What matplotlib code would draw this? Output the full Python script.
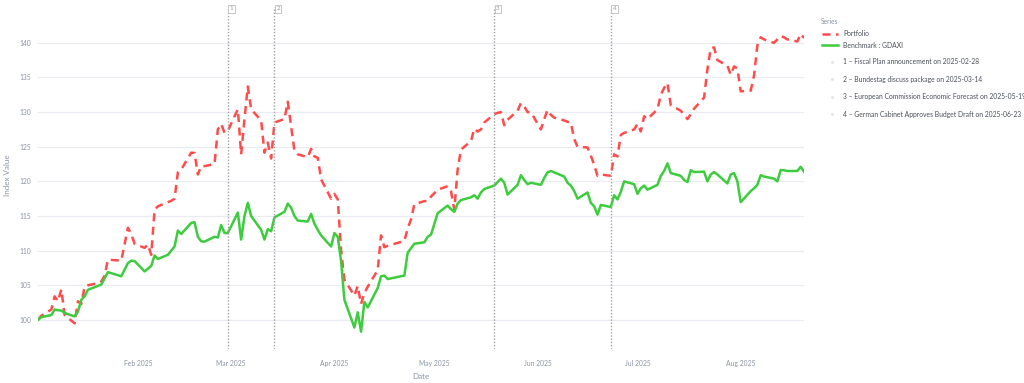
import matplotlib
matplotlib.use("Agg")
import matplotlib.pyplot as plt
import matplotlib.dates as mdates
from matplotlib.lines import Line2D
import pandas as pd

# Portfolio (dashed red)
port_dates = [
    "2025-01-02", "2025-01-03", "2025-01-06", "2025-01-07", "2025-01-08", "2025-01-09", "2025-01-10",
    "2025-01-13", "2025-01-14", "2025-01-15", "2025-01-16", "2025-01-17", "2025-01-20", "2025-01-21",
    "2025-01-22", "2025-01-23", "2025-01-27", "2025-01-29", "2025-01-30", "2025-01-31",
    "2025-02-03", "2025-02-04", "2025-02-05", "2025-02-06", "2025-02-07", "2025-02-11", "2025-02-12",
    "2025-02-13", "2025-02-14", "2025-02-17", "2025-02-18", "2025-02-19", "2025-02-20", "2025-02-21",
    "2025-02-24", "2025-02-25", "2025-02-26", "2025-02-27", "2025-02-28",
    "2025-03-03", "2025-03-04", "2025-03-05", "2025-03-06", "2025-03-07", "2025-03-10", "2025-03-11",
    "2025-03-12", "2025-03-13", "2025-03-14", "2025-03-17", "2025-03-18", "2025-03-19", "2025-03-20",
    "2025-03-21", "2025-03-24", "2025-03-25", "2025-03-26", "2025-03-27", "2025-03-28", "2025-03-31",
    "2025-04-01", "2025-04-02", "2025-04-03", "2025-04-04", "2025-04-07", "2025-04-08", "2025-04-09",
    "2025-04-10", "2025-04-11", "2025-04-14", "2025-04-15", "2025-04-16", "2025-04-17", "2025-04-22",
    "2025-04-23", "2025-04-24", "2025-04-25", "2025-04-28", "2025-04-29", "2025-04-30",
    "2025-05-02", "2025-05-05", "2025-05-06", "2025-05-07", "2025-05-08", "2025-05-09", "2025-05-12",
    "2025-05-13", "2025-05-14", "2025-05-15", "2025-05-16", "2025-05-19", "2025-05-20", "2025-05-21",
    "2025-05-22", "2025-05-23", "2025-05-26", "2025-05-27", "2025-05-28", "2025-05-29", "2025-05-30",
    "2025-06-02", "2025-06-03", "2025-06-04", "2025-06-05", "2025-06-06", "2025-06-09", "2025-06-10",
    "2025-06-11", "2025-06-12", "2025-06-13", "2025-06-16", "2025-06-17", "2025-06-18", "2025-06-19",
    "2025-06-20", "2025-06-23", "2025-06-24", "2025-06-25", "2025-06-26", "2025-06-27", "2025-06-30",
    "2025-07-01", "2025-07-02", "2025-07-03", "2025-07-04", "2025-07-07", "2025-07-08", "2025-07-09",
    "2025-07-10", "2025-07-11", "2025-07-14", "2025-07-15", "2025-07-16", "2025-07-17", "2025-07-18",
    "2025-07-21", "2025-07-22", "2025-07-23", "2025-07-24", "2025-07-25", "2025-07-28", "2025-07-29",
    "2025-07-30", "2025-07-31", "2025-08-01", "2025-08-04", "2025-08-05", "2025-08-06", "2025-08-07",
    "2025-08-08", "2025-08-11", "2025-08-12", "2025-08-13", "2025-08-14", "2025-08-15", "2025-08-18",
    "2025-08-19", "2025-08-20",
]
port_values = [
    100.0, 100.6, 101.5, 103.4, 102.7, 104.4, 100.7,
    99.5, 102.7, 102.3, 104.8, 105.0, 105.3, 105.55,
    106.4, 108.7, 108.55, 113.3, 112.4, 111.0,
    110.4, 110.9, 109.4, 115.9, 116.4, 117.2, 117.5,
    121.3, 121.7, 124.15, 124.1, 121.0, 122.2, 122.2,
    122.5, 127.5, 128.3, 127.0, 127.3,
    130.4, 123.9, 129.0, 133.7, 130.4, 128.8, 124.15,
    125.6, 123.3, 128.5, 129.0, 131.5, 128.0, 124.4,
    123.9, 123.5, 124.7, 123.6, 123.4, 120.3, 117.5,
    118.2, 117.4, 110.1, 105.8, 103.5, 104.9, 102.3,
    103.9, 104.8, 107.2, 112.2, 110.5, 110.7, 111.4,
    113.2, 114.5, 116.7, 117.15, 117.15, 117.8,
    118.8, 119.3, 118.6, 115.9, 121.7, 124.6, 125.8,
    127.6, 127.2, 127.5, 128.5, 129.7, 129.9, 130.0,
    128.1, 128.9, 130.2, 131.3, 130.8, 130.0, 130.0,
    127.5, 129.0, 130.3, 129.6, 129.2, 128.8, 128.6,
    128.5, 126.1, 125.0, 124.9, 123.7, 122.4, 120.8,
    121.0, 120.8, 123.9, 123.6, 126.7, 127.0, 127.5,
    128.3, 127.2, 129.4, 129.0, 130.4, 132.5, 133.5,
    134.2, 131.0, 130.2, 129.6, 129.0, 129.7, 130.5,
    132.1, 136.2, 139.2, 139.35, 137.5, 136.7, 135.4,
    136.6, 136.3, 133.0, 133.1, 135.3, 139.65, 140.8,
    140.5, 140.0, 140.5, 141.0, 140.8, 140.5, 140.2,
    141.3, 140.7,
]

# Benchmark : GDAXI (solid green)
bench_dates = [
    "2025-01-02", "2025-01-03", "2025-01-06", "2025-01-07", "2025-01-08", "2025-01-09", "2025-01-10",
    "2025-01-13", "2025-01-14", "2025-01-15", "2025-01-16", "2025-01-17", "2025-01-21", "2025-01-22",
    "2025-01-23", "2025-01-27", "2025-01-29", "2025-01-30", "2025-01-31",
    "2025-02-03", "2025-02-05", "2025-02-06", "2025-02-07", "2025-02-10", "2025-02-12", "2025-02-13",
    "2025-02-14", "2025-02-17", "2025-02-18", "2025-02-19", "2025-02-20", "2025-02-21", "2025-02-24",
    "2025-02-25", "2025-02-26", "2025-02-27", "2025-02-28",
    "2025-03-03", "2025-03-04", "2025-03-05", "2025-03-06", "2025-03-07", "2025-03-10", "2025-03-11",
    "2025-03-12", "2025-03-13", "2025-03-14", "2025-03-17", "2025-03-18", "2025-03-19", "2025-03-20",
    "2025-03-21", "2025-03-24", "2025-03-25", "2025-03-26", "2025-03-27", "2025-03-28", "2025-03-31",
    "2025-04-01", "2025-04-02", "2025-04-03", "2025-04-04", "2025-04-07", "2025-04-08", "2025-04-09",
    "2025-04-10", "2025-04-11", "2025-04-14", "2025-04-15", "2025-04-16", "2025-04-17", "2025-04-22",
    "2025-04-23", "2025-04-25", "2025-04-28", "2025-04-29", "2025-04-30",
    "2025-05-02", "2025-05-05", "2025-05-06", "2025-05-07", "2025-05-08", "2025-05-09", "2025-05-12",
    "2025-05-13", "2025-05-14", "2025-05-15", "2025-05-16", "2025-05-19", "2025-05-20", "2025-05-21",
    "2025-05-22", "2025-05-23", "2025-05-26", "2025-05-27", "2025-05-28", "2025-05-29", "2025-05-30",
    "2025-06-02", "2025-06-03", "2025-06-04", "2025-06-05", "2025-06-06", "2025-06-09", "2025-06-10",
    "2025-06-11", "2025-06-12", "2025-06-13", "2025-06-16", "2025-06-17", "2025-06-18", "2025-06-19",
    "2025-06-20", "2025-06-23", "2025-06-24", "2025-06-25", "2025-06-26", "2025-06-27", "2025-06-30",
    "2025-07-01", "2025-07-02", "2025-07-03", "2025-07-04", "2025-07-07", "2025-07-08", "2025-07-09",
    "2025-07-10", "2025-07-11", "2025-07-14", "2025-07-15", "2025-07-16", "2025-07-17", "2025-07-18",
    "2025-07-21", "2025-07-22", "2025-07-23", "2025-07-24", "2025-07-25", "2025-07-28", "2025-07-29",
    "2025-07-30", "2025-07-31", "2025-08-01", "2025-08-04", "2025-08-05", "2025-08-06", "2025-08-07",
    "2025-08-08", "2025-08-11", "2025-08-12", "2025-08-13", "2025-08-14", "2025-08-15", "2025-08-18",
    "2025-08-19", "2025-08-20",
]
bench_values = [
    100.0, 100.4, 100.7, 101.5, 101.4, 101.35, 101.0,
    100.5, 101.2, 102.9, 103.4, 104.35, 105.1, 106.0,
    106.9, 106.3, 108.2, 108.55, 108.5,
    107.0, 107.8, 109.3, 108.8, 109.4, 110.6, 112.9,
    112.4, 114.0, 114.1, 112.0, 111.35, 111.3, 112.0,
    111.9, 113.7, 112.55, 112.55,
    115.5, 111.6, 115.0, 116.9, 115.0, 113.0, 111.6,
    113.1, 112.8, 114.8, 115.6, 116.8, 116.2, 115.0,
    114.35, 114.2, 115.3, 113.9, 113.0, 112.2, 110.6,
    112.55, 112.0, 108.5, 102.9, 98.9, 101.1, 98.3,
    102.6, 101.8, 104.6, 106.3, 106.4, 105.9, 106.4,
    109.7, 111.0, 111.2, 112.0, 112.3,
    115.4, 116.5, 116.0, 115.6, 116.8, 117.3, 117.7,
    118.0, 117.5, 118.4, 118.9, 119.4, 119.9, 120.4,
    119.8, 118.1, 119.5, 120.9, 120.2, 119.6, 119.8,
    119.5, 120.5, 121.3, 121.5, 121.3, 120.7, 119.8,
    119.4, 118.6, 117.5, 118.4, 116.9, 116.4, 115.2,
    116.6, 116.3, 118.0, 117.4, 118.5, 120.0, 119.6,
    118.2, 119.0, 119.4, 118.8, 119.5, 120.8, 121.5,
    122.6, 121.2, 120.8, 120.2, 119.9, 121.6, 121.35,
    121.4, 120.0, 121.0, 121.35, 121.0, 119.7, 121.0,
    121.2, 120.0, 117.0, 118.6, 119.0, 119.5, 120.9,
    120.7, 120.4, 120.0, 121.65, 121.6, 121.5, 121.5,
    122.1, 121.4,
]

event_dates = ["2025-02-28", "2025-03-14", "2025-05-19", "2025-06-23"]
event_labels = [
    "Fiscal Plan announcement",
    "Bundestag discuss package",
    "European Commission Economic Forecast",
    "German Cabinet Approves Budget Draft",
]

RED = "#ff4b4b"
GREEN = "#3dcc3d"
GRID = "#e8ebf0"
TICK = "#8a93a3"
TEXT = "#4a4f5a"

plt.rcParams["font.family"] = ["Lato", "DejaVu Sans"]

fig = plt.figure(figsize=(10.24, 3.83), dpi=100)
W, H = 1024, 383
ax = fig.add_axes([38 / W, 1 - 349 / H, (804 - 38) / W, (349 - 2) / H])

pd_port = pd.to_datetime(port_dates)
pd_bench = pd.to_datetime(bench_dates)
ax.plot(pd_port, port_values, color=RED, lw=1.8, dashes=(3.2, 2.2))
ax.plot(pd_bench, bench_values, color=GREEN, lw=1.8)

ax.set_xlim(pd_bench[0], pd_bench[-1])
ax.set_ylim(95.8, 145.9)
ax.set_yticks(range(100, 141, 5))
ax.yaxis.grid(True, color=GRID, lw=0.8)
ax.set_axisbelow(True)
for s in ax.spines.values():
    s.set_visible(False)

ax.xaxis.set_major_locator(mdates.MonthLocator(bymonth=range(2, 9)))
ax.xaxis.set_major_formatter(mdates.DateFormatter("%b %Y"))
ax.tick_params(axis="both", length=0, labelsize=4.9, colors=TICK, pad=5)
ax.tick_params(axis="x", pad=8)
ax.set_xlabel("Date", fontsize=5.8, color=TICK, labelpad=4)
ax.set_ylabel("Index Value", fontsize=5.8, color=TICK, labelpad=6)

for i, d in enumerate(event_dates):
    x = pd.Timestamp(d)
    ax.axvline(x, color="#a0a0a0", lw=1, ls=(0, (1, 1.3)), ymax=0.985)
    ax.annotate(str(i + 1), xy=(x, 1), xycoords=("data", "axes fraction"),
                xytext=(1.3, -5), textcoords="offset points", ha="left", va="center",
                fontsize=4.5, color="#999999",
                bbox=dict(boxstyle="square,pad=0.25", fc="white", ec="#bbbbbb", lw=0.6),
                annotation_clip=False)

# legend, drawn by hand in figure pixels
def fx(px):
    return px / W


def fy(py):
    return 1 - py / H


fig.text(fx(821), fy(22), "Series", fontsize=4.8, color=TICK, va="center")
fig.add_artist(Line2D([fx(822), fx(838)], [fy(34), fy(34)], color=RED, lw=1.8, dashes=(3.2, 2.2)))
fig.text(fx(843), fy(34), "Portfolio", fontsize=4.85, color=TEXT, va="center")
fig.add_artist(Line2D([fx(822), fx(838)], [fy(45), fy(45)], color=GREEN, lw=1.8))
fig.text(fx(843), fy(45), "Benchmark : GDAXI", fontsize=4.85, color=TEXT, va="center")
for i, (d, lab) in enumerate(zip(event_dates, event_labels)):
    y = 62 + i * 17.4
    fig.add_artist(Line2D([fx(832)], [fy(y)], marker="o", ms=1.2, color="#e6e6e6", lw=0))
    fig.text(fx(843), fy(y), f"{i + 1} – {lab} on {d}", fontsize=4.85, color=TEXT, va="center")

fig.savefig("out.png", dpi=100)
